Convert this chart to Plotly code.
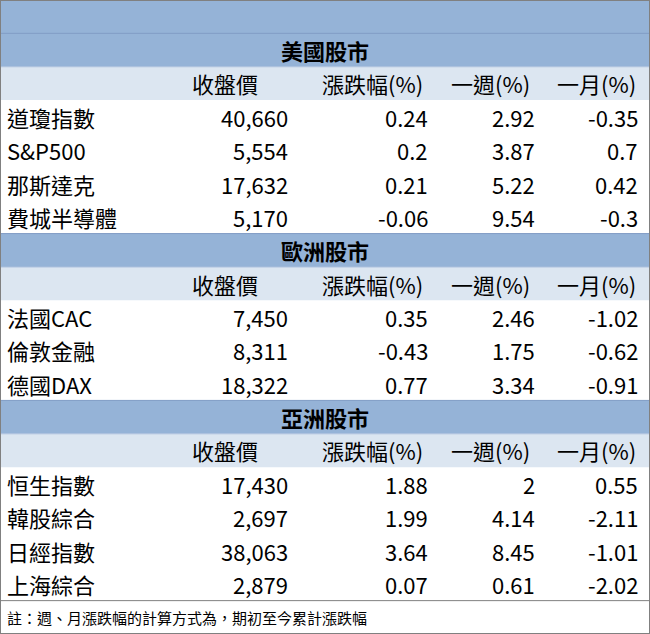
import plotly.graph_objects as go

sections = ["美國股市", "歐洲股市", "亞洲股市"]
headers = ["收盤價", "漲跌幅(%)", "一週(%)", "一月(%)"]
names = [["道瓊指數", "S&P500", "那斯達克", "費城半導體"],
         ["法國CAC", "倫敦金融", "德國DAX"],
         ["恒生指數", "韓股綜合", "日經指數", "上海綜合"]]
close = [["40,660", "5,554", "17,632", "5,170"],
         ["7,450", "8,311", "18,322"],
         ["17,430", "2,697", "38,063", "2,879"]]
chg = [["0.24", "0.2", "0.21", "-0.06"], ["0.35", "-0.43", "0.77"], ["1.88", "1.99", "3.64", "0.07"]]
week = [["2.92", "3.87", "5.22", "9.54"], ["2.46", "1.75", "3.34"], ["2", "4.14", "8.45", "0.61"]]
month = [["-0.35", "0.7", "0.42", "-0.3"], ["-1.02", "-0.62", "-0.91"], ["0.55", "-2.11", "-1.01", "-2.02"]]
note = "註：週、月漲跌幅的計算方式為，期初至今累計漲跌幅"

W, H = 650, 634
NR = 19
FONT = "Noto Sans CJK TC"
BAND = "#95B3D7"
LIGHT = "#DCE6F1"

fig = go.Figure()
shapes, ann = [], []

def rect(r0, r1, color):
    shapes.append(dict(type="rect", xref="x", yref="y", x0=0, x1=W, y0=r0, y1=r1,
                       fillcolor=color, line=dict(width=0), layer="below"))

def hline(r, color="#7F9BC4", w=1):
    shapes.append(dict(type="line", xref="x", yref="y", x0=0, x1=W, y0=r, y1=r,
                       line=dict(color=color, width=w)))

def text(x, r, s, anchor, bold=False, size=22):
    ann.append(dict(x=x, y=r + 0.5, xref="x", yref="y", text=f"<b>{s}</b>" if bold else s,
                    showarrow=False, xanchor=anchor, yanchor="middle",
                    font=dict(family=FONT, size=size, color="#000")))

rect(0, 1, BAND)
r = 1
hx = [260, 425, 532, 638]
dx = [290, 430, 537, 640]
for si, sec in enumerate(sections):
    rect(r, r + 1, BAND)
    hline(r, "#7F9BC4")
    text(W / 2, r, sec, "center", bold=True)
    r += 1
    rect(r, r + 1, LIGHT)
    hline(r, "#A9BEDC")
    for j, h in enumerate(headers):
        text(hx[j], r, h, "right")
    r += 1
    for i, n in enumerate(names[si]):
        text(5, r, n, "left")
        for j, v in enumerate([close[si][i], chg[si][i], week[si][i], month[si][i]]):
            text(dx[j], r, v, "right")
        r += 1
hline(r, "#808080")
text(5, r, note, "left", size=15)
shapes.append(dict(type="rect", xref="paper", yref="paper", x0=0, x1=1, y0=0, y1=1,
                   line=dict(color="#808080", width=2)))

fig.update_layout(width=W, height=H, margin=dict(l=0, r=0, t=0, b=0),
                  paper_bgcolor="white", plot_bgcolor="white",
                  xaxis=dict(range=[0, W], visible=False, fixedrange=True),
                  yaxis=dict(range=[NR, 0], visible=False, fixedrange=True),
                  shapes=shapes, annotations=ann, showlegend=False)
fig.write_html("out.html", config={"displayModeBar": False},
               post_script="document.body.style.margin='0';document.body.style.overflow='hidden';")
